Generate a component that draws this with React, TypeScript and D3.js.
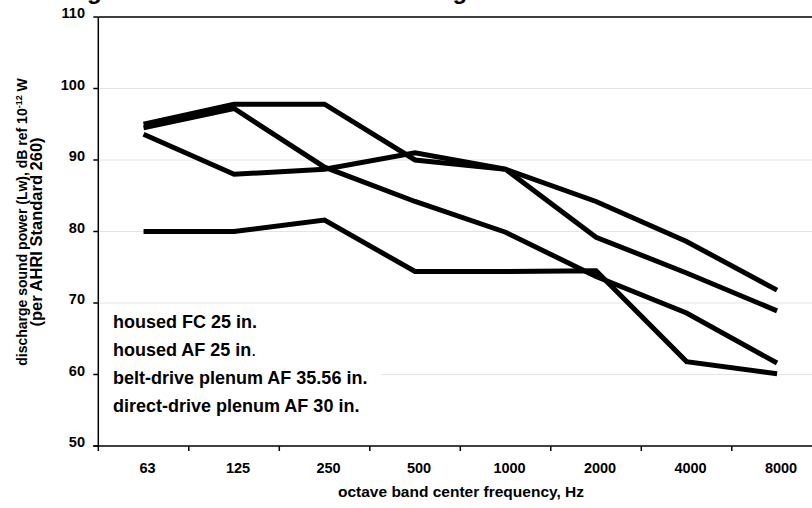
import React from "react";
import * as d3 from "d3";

// octave band centre frequencies (Hz)
const categories = ["63", "125", "250", "500", "1000", "2000", "4000", "8000"];
const yTicks = [50, 60, 70, 80, 90, 100, 110];

// discharge sound power, dB
const housedFC = [95.0, 97.8, 97.8, 90.0, 88.7, 79.2, 74.2, 68.9];
const housedAF = [93.6, 88.0, 88.7, 91.0, 88.7, 84.2, 78.6, 71.8];
const beltPlenum = [94.5, 97.2, 89.0, 84.2, 79.9, 73.7, 68.6, 61.6];
const directPlenum = [80.0, 80.0, 81.6, 74.4, 74.4, 74.5, 61.8, 60.1];

const legendLabels = [
  "housed FC 25 in",
  "housed AF 25 in",
  "belt-drive plenum AF 35.56 in",
  "direct-drive plenum AF 30 in",
];

const font = "'Liberation Sans', Arial, sans-serif";

const App = () => {
  const width = 812;
  const height = 508;
  const left = 98.3;
  const top = 17;
  const bottom = 446;
  const band = 90.5;

  const x = d3
    .scaleBand<string>()
    .domain(categories)
    .range([left, left + band * categories.length]);
  const y = d3.scaleLinear().domain([50, 110]).range([bottom, top]);

  const line = d3
    .line<number>()
    .x((d, i) => x(categories[i])! + x.bandwidth() / 2)
    .y(d => y(d));

  const series = [housedFC, housedAF, beltPlenum, directPlenum];
  const right = x.range()[1];
  const boundaries = categories.map(c => x(c)!).concat([right]);

  return (
    <svg
      width={width}
      height={height}
      style={{ position: "absolute", left: 0, top: 0, background: "#fff" }}
      fontFamily={font}
      fontWeight="bold"
    >
      {/* title, mostly above the visible area */}
      <text x={-1} y={-1} fontSize={24}>
        Discharge Sound Levels at Rated Settings
      </text>

      {/* gridlines */}
      {yTicks
        .filter(t => t !== 50 && t !== 110)
        .map(t => (
          <line
            key={"g" + t}
            x1={left}
            x2={right}
            y1={y(t)}
            y2={y(t)}
            stroke="#e4e4e4"
            strokeWidth={1}
          />
        ))}

      {/* legend box hides gridlines behind it */}
      <rect x={left + 1} y={308} width={282} height={120} fill="#fff" />

      {/* top border */}
      <line x1={left} x2={right} y1={top} y2={top} stroke="#000" strokeWidth={1.5} />

      {/* y axis */}
      <line x1={left} x2={left} y1={top} y2={bottom} stroke="#000" strokeWidth={1.5} />
      {yTicks.map(t => (
        <g key={"y" + t}>
          <line x1={left - 5} x2={left} y1={y(t)} y2={y(t)} stroke="#000" strokeWidth={1.5} />
          <text x={85} y={y(t) + 1} textAnchor="end" fontSize={14.5}>
            {t}
          </text>
        </g>
      ))}

      {/* x axis */}
      <line x1={left - 5} x2={right} y1={bottom} y2={bottom} stroke="#000" strokeWidth={1.5} />
      {boundaries.map((b, i) => (
        <line key={"t" + i} x1={b} x2={b} y1={bottom} y2={bottom + 5} stroke="#000" strokeWidth={1.5} />
      ))}
      {categories.map(c => (
        <text
          key={"x" + c}
          x={x(c)! + x.bandwidth() / 2 + 4}
          y={472.5}
          textAnchor="middle"
          fontSize={14.5}
        >
          {c}
        </text>
      ))}

      <text x={461} y={497} textAnchor="middle" fontSize={15.5}>
        octave band center frequency, Hz
      </text>

      {/* y axis title */}
      <text transform="translate(27,222) rotate(-90)" textAnchor="middle" fontSize={14}>
        discharge sound power (Lw), dB ref 10
        <tspan fontSize={9} dy={-5}>-12</tspan>
        <tspan dy={5}> W</tspan>
      </text>
      <text transform="translate(42,232) rotate(-90)" textAnchor="middle" fontSize={16.5}>
        (per AHRI Standard 260)
      </text>

      {/* series */}
      {series.map((s, i) => (
        <path key={"s" + i} d={line(s)!} fill="none" stroke="#000" strokeWidth={5} />
      ))}

      {/* legend text */}
      {legendLabels.map((l, i) => (
        <text key={"l" + i} x={113} y={328 + i * 28} fontSize={18}>
          {l}
          <tspan fontWeight={i === 1 ? "normal" : "bold"}>.</tspan>
        </text>
      ))}
    </svg>
  );
};

export default App;
